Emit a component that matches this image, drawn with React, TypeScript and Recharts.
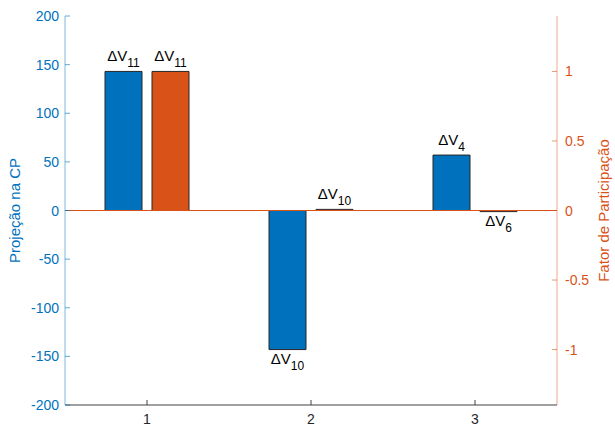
// Projection on the principal component (left axis) next to the
// participation factor (right axis) for three modes, MATLAB yyaxis look.

import { Bar, BarChart, LabelList, ReferenceLine, XAxis, YAxis } from "recharts";

const categories = ["1", "2", "3"];
const projection = [143, -143, 57];
const participation = [1, 0.008, -0.008];
const projectionStates = ["11", "10", "4"];
const participationStates = ["11", "10", "6"];
const leftTicks = [-200, -150, -100, -50, 0, 50, 100, 150, 200];
const rightTicks = [-1, -0.5, 0, 0.5, 1];

const BLUE = "#0072BD";
const ORANGE = "#D95319";
const EDGE = "#262626";
const FONT = "Arial, 'Liberation Sans', Helvetica, sans-serif";

// both axes share the zero line; right limit keeps factor 1 level with the top bar
const leftMax = 200;
const rightMax = leftMax / projection[0];

const data = categories.map((c, i) => ({
  cat: c,
  proj: projection[i],
  part: participation[i],
}));

const deltaLabel = (states: string[]) => (props: any) => {
  const { x, y, width, height, value, index } = props;
  const top = Math.min(y, y + height);
  const bottom = Math.max(y, y + height);
  const base = value < 0 ? bottom + 14 : top - 10;
  return (
    <text x={x + width / 2} y={base} textAnchor="middle" fontSize={15} fontFamily={FONT} fill="#000">
      ΔV
      <tspan fontSize={12} dy={6}>
        {states[index]}
      </tspan>
    </text>
  );
};

// MATLAB ticks point into the axes box
const LeftTick = (props: any) => {
  const { x, y, payload } = props;
  return (
    <g>
      <line x1={x + 6} y1={y} x2={x + 11} y2={y} stroke={BLUE} strokeOpacity={0.6} />
      <text x={x} y={y} dy={5} textAnchor="end" fontSize={14} fontFamily={FONT} fill={BLUE}>
        {payload.value}
      </text>
    </g>
  );
};

const RightTick = (props: any) => {
  const { x, y, payload } = props;
  return (
    <g>
      <line x1={x - 8} y1={y} x2={x - 13} y2={y} stroke={ORANGE} strokeOpacity={0.6} />
      <text x={x} y={y} dy={5} textAnchor="start" fontSize={14} fontFamily={FONT} fill={ORANGE}>
        {payload.value}
      </text>
    </g>
  );
};

const BottomTick = (props: any) => {
  const { x, y, payload } = props;
  return (
    <g>
      <line x1={x} y1={y - 9} x2={x} y2={y - 14} stroke="#404040" />
      <text x={x} y={y} dy={10} textAnchor="middle" fontSize={14} fontFamily={FONT} fill="#262626">
        {payload.value}
      </text>
    </g>
  );
};

const TopTick = (props: any) => {
  const { x, y } = props;
  return <line x1={x} y1={y + 2} x2={x} y2={y + 7} stroke="#404040" />;
};

export default function App() {
  return (
    <div style={{ position: "absolute", left: 0, top: 0, background: "#fff" }}>
      <BarChart
        width={615}
        height={425}
        data={data}
        margin={{ top: 16, right: 0, bottom: 0, left: 0 }}
        barSize={37}
        barGap={10}
      >
        <XAxis
          dataKey="cat"
          xAxisId="top"
          orientation="top"
          height={0}
          tickSize={0}
          tickMargin={2}
          tick={<TopTick />}
          axisLine={{ stroke: "#505050" }}
          tickLine={false}
        />
        <XAxis
          dataKey="cat"
          height={20}
          tickSize={0}
          tickMargin={9}
          tick={<BottomTick />}
          axisLine={{ stroke: "#404040" }}
          tickLine={false}
        />
        <YAxis
          yAxisId="left"
          width={65}
          domain={[-leftMax, leftMax]}
          ticks={leftTicks}
          tickSize={0}
          tickMargin={6}
          tick={<LeftTick />}
          tickLine={false}
          axisLine={{ stroke: BLUE, strokeOpacity: 0.5 }}
          label={{
            value: "Projeção na CP",
            angle: -90,
            position: "insideLeft",
            offset: 0,
            dx: 15,
            fill: BLUE,
            fontSize: 15,
            fontFamily: FONT,
            style: { textAnchor: "middle" },
          }}
        />
        <YAxis
          yAxisId="right"
          orientation="right"
          width={58}
          domain={[-rightMax, rightMax]}
          ticks={rightTicks}
          tickSize={0}
          tickMargin={8}
          tick={<RightTick />}
          tickLine={false}
          axisLine={{ stroke: ORANGE, strokeOpacity: 0.5 }}
          label={{
            value: "Fator de Participação",
            angle: -90,
            position: "insideRight",
            offset: 0,
            dx: -11,
            fill: ORANGE,
            fontSize: 15,
            fontFamily: FONT,
            style: { textAnchor: "middle" },
          }}
        />
        <ReferenceLine yAxisId="right" y={0} stroke={ORANGE} strokeWidth={1} />
        <Bar yAxisId="left" dataKey="proj" fill={BLUE} stroke={EDGE} strokeWidth={1} isAnimationActive={false}>
          <LabelList dataKey="proj" content={deltaLabel(projectionStates)} />
        </Bar>
        <Bar yAxisId="right" dataKey="part" fill={ORANGE} stroke={EDGE} strokeWidth={1} isAnimationActive={false}>
          <LabelList dataKey="part" content={deltaLabel(participationStates)} />
        </Bar>
      </BarChart>
    </div>
  );
}
